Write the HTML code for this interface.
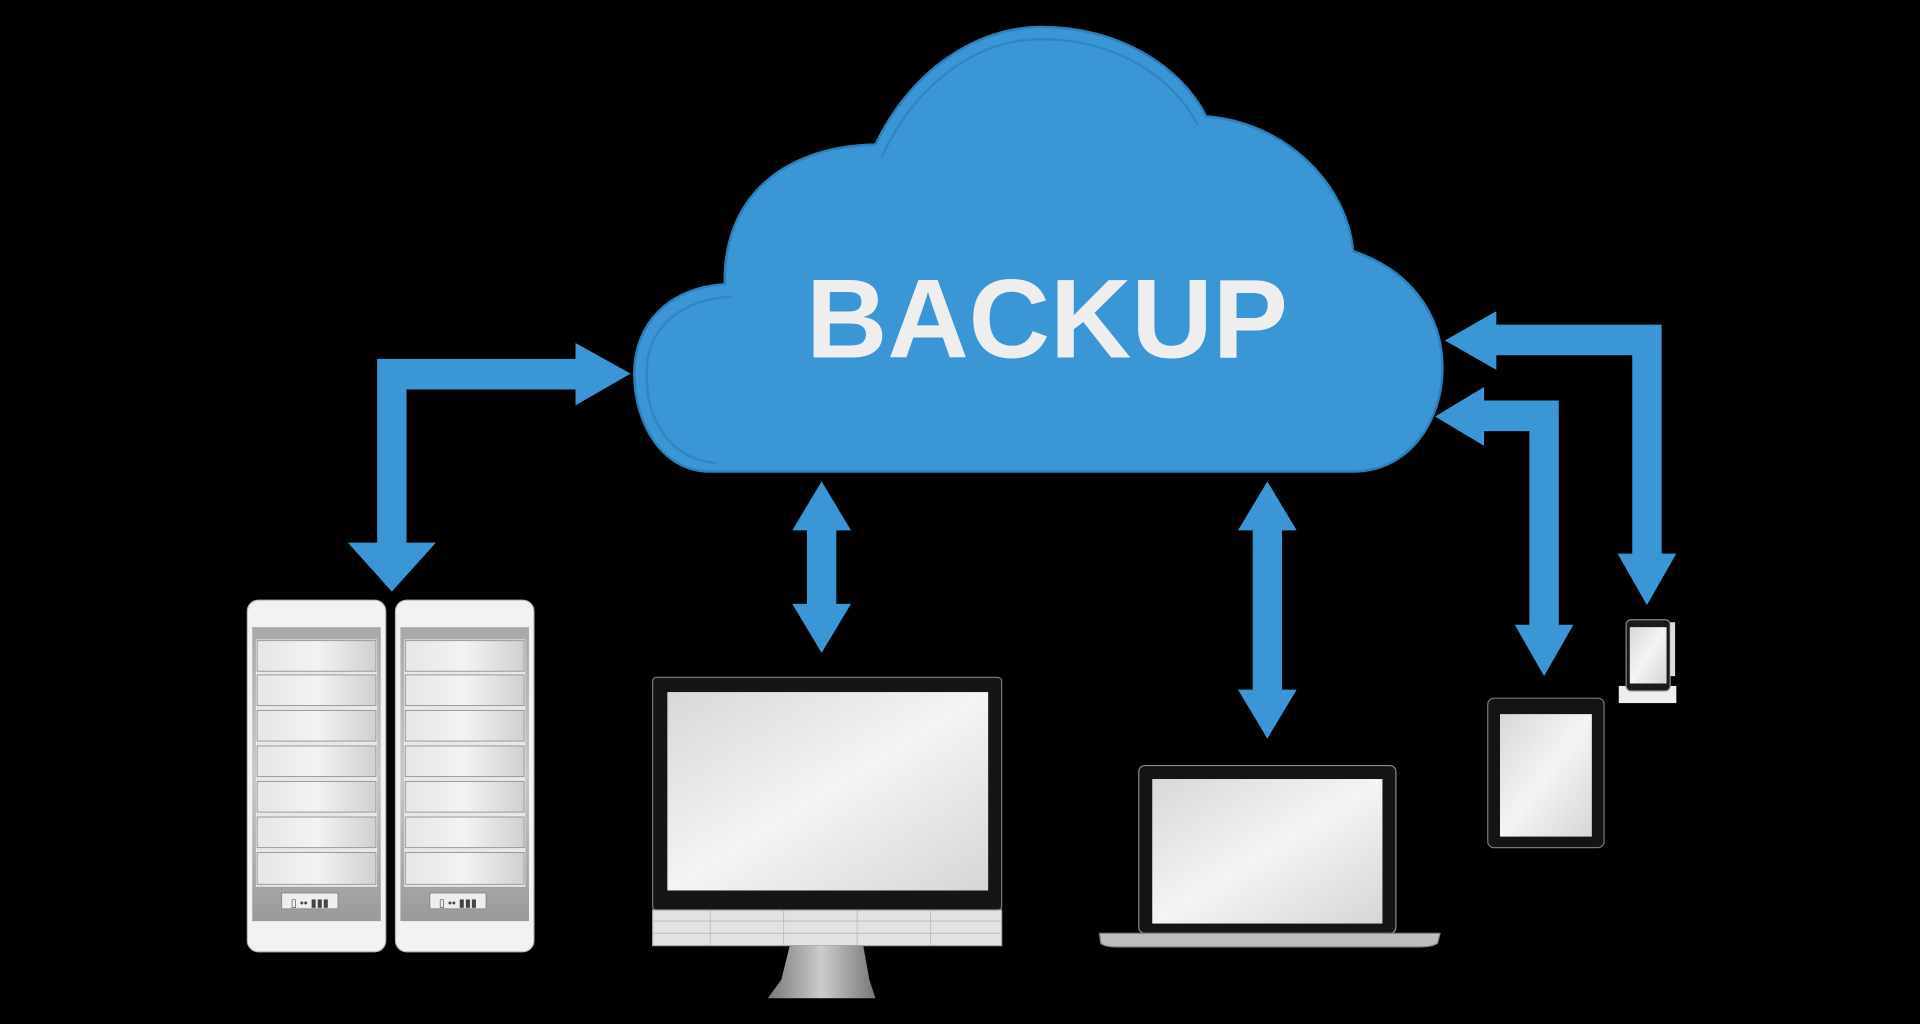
<!DOCTYPE html>
<html><head><meta charset="utf-8"><style>
html,body{margin:0;padding:0;background:#000;width:1920px;height:1024px;overflow:hidden}
svg{display:block}
</style></head><body>
<svg width="1920" height="1024" viewBox="0 0 1568 836" preserveAspectRatio="none" xmlns="http://www.w3.org/2000/svg">
<defs>
<linearGradient id="scr" x1="0" y1="0" x2="1" y2="1"><stop offset="0" stop-color="#d8d8d8"/><stop offset="0.5" stop-color="#f4f4f4"/><stop offset="1" stop-color="#d6d6d6"/></linearGradient>
<linearGradient id="bay" x1="0" y1="0" x2="1" y2="0"><stop offset="0" stop-color="#e6e6e6"/><stop offset="0.5" stop-color="#f3f3f3"/><stop offset="1" stop-color="#d0d0d0"/></linearGradient>
<linearGradient id="frame" x1="0" y1="0" x2="0" y2="1"><stop offset="0" stop-color="#a8a8a8"/><stop offset="0.5" stop-color="#c8c8c8"/><stop offset="1" stop-color="#9a9a9a"/></linearGradient>
<linearGradient id="stand" x1="0" y1="0" x2="1" y2="0"><stop offset="0" stop-color="#777"/><stop offset="0.5" stop-color="#ccc"/><stop offset="1" stop-color="#777"/></linearGradient>
</defs>
<rect width="1568" height="836" fill="#000"/>
<!-- cloud -->
<g fill="#3a96d4" stroke="#2c7fb8" stroke-width="2">
<path d="M580 385 C540 385 518 345 518 305 C518 265 545 235 592 232 C590 170 630 120 715 118 C745 55 800 22 850 22 C915 22 965 55 985 95 C1050 100 1100 150 1105 205 C1150 220 1178 255 1178 300 C1178 345 1150 385 1105 385 Z"/>
</g>
<path d="M585 378 C548 375 528 345 528 305 C528 270 552 245 598 242 M720 128 C750 65 800 32 850 32 C910 32 958 62 978 102" fill="none" stroke="#2f86c2" stroke-width="2"/>
<text x="855" y="292" text-anchor="middle" font-family="Liberation Sans, sans-serif" font-weight="bold" font-size="92" fill="#eeeeee">BACKUP</text>
<!-- arrows -->
<g fill="#3a96d4">
<polygon points="308,293 470,293 470,280 515,305 470,331 470,318 332,318 332,443 356,443 320,483 284,443 308,443"/>
<polygon points="671,393 695,433 683,433 683,493 695,493 671,533 647,493 659,493 659,433 647,433"/>
<polygon points="1035,393 1059,433 1047,433 1047,563 1059,563 1035,603 1011,563 1023,563 1023,433 1011,433"/>
<polygon points="1180,278 1222,254 1222,265 1357,265 1357,452 1369,452 1345,494 1321,452 1333,452 1333,290 1222,290 1222,302"/>
<polygon points="1172,340 1212,316 1212,327 1273,327 1273,510 1285,510 1261,552 1237,510 1249,510 1249,352 1212,352 1212,364"/>
</g>
<!-- servers -->
<g id="srv">
<rect x="202" y="490" width="113" height="287" rx="9" fill="#f2f2f2" stroke="#bbb"/>
<rect x="206" y="512" width="105" height="240" fill="url(#frame)"/>
<rect x="209" y="522" width="99" height="202" fill="#e8e8e8"/>
<g fill="url(#bay)" stroke="#999" stroke-width="0.8">
<rect x="210" y="523" width="97" height="25"/><rect x="210" y="551" width="97" height="25"/><rect x="210" y="580" width="97" height="25"/><rect x="210" y="609" width="97" height="25"/><rect x="210" y="638" width="97" height="25"/><rect x="210" y="667" width="97" height="25"/><rect x="210" y="696" width="97" height="26"/>
</g>
<rect x="230" y="729" width="46" height="13" fill="#eee" stroke="#888" stroke-width="0.8"/>
<text x="253" y="740" text-anchor="middle" font-family="Liberation Sans, sans-serif" font-size="9" fill="#444">▯ •• ▮▮▮</text>
</g>
<use href="#srv" transform="translate(121,0)"/>
<!-- monitor -->
<rect x="533" y="553" width="285" height="190" rx="3" fill="#151515" stroke="#777"/>
<rect x="545" y="565" width="262" height="162" fill="url(#scr)"/>
<rect x="533" y="743" width="285" height="29" fill="#e2e2e2" stroke="#aaa"/>
<g stroke="#b8b8b8" stroke-width="0.7"><line x1="533" y1="752" x2="818" y2="752"/><line x1="533" y1="762" x2="818" y2="762"/><line x1="580" y1="743" x2="580" y2="772"/><line x1="640" y1="743" x2="640" y2="772"/><line x1="700" y1="743" x2="700" y2="772"/><line x1="760" y1="743" x2="760" y2="772"/></g>
<path d="M645 772 L705 772 L710 800 L715 815 L627 815 L638 800 Z" fill="url(#stand)"/>
<!-- laptop -->
<rect x="930" y="625" width="210" height="137" rx="5" fill="#141414" stroke="#888"/>
<rect x="941" y="636" width="188" height="118" fill="url(#scr)"/>
<path d="M898 762 L1176 762 L1174 770 Q1170 773 1160 773 L912 773 Q902 773 899 770 Z" fill="#bdbdbd" stroke="#888"/>
<!-- tablet -->
<rect x="1215" y="570" width="95" height="122" rx="5" fill="#141414" stroke="#777"/>
<rect x="1225" y="583" width="75" height="100" fill="url(#scr)"/>
<!-- phone -->
<rect x="1322" y="560" width="47" height="14" fill="#eee"/>
<rect x="1328" y="506" width="36" height="58" rx="4" fill="#1a1a1a" stroke="#888"/>
<rect x="1331" y="512" width="30" height="46" fill="url(#scr)"/>
<rect x="1364" y="508" width="4" height="44" fill="#ddd"/>
</svg>
</body></html>
